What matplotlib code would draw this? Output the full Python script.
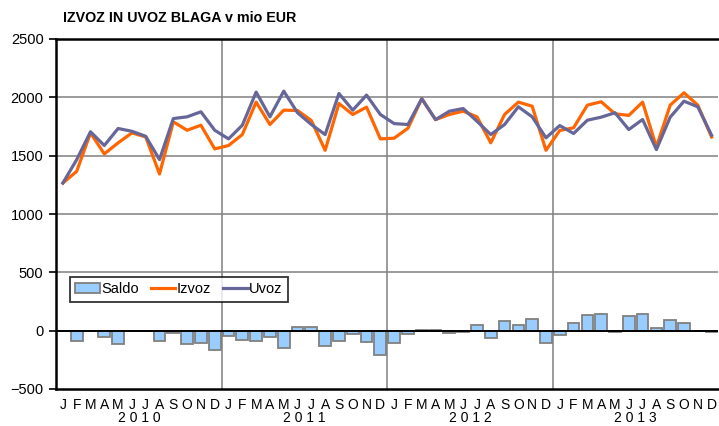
import matplotlib
matplotlib.use("Agg")
import matplotlib.pyplot as plt
import matplotlib.transforms as mtransforms
import numpy as np

plt.rcParams['font.family'] = ['Liberation Sans', 'DejaVu Sans']

title = "IZVOZ IN UVOZ BLAGA v mio EUR"
years = ["2010", "2011", "2012", "2013"]
month_labels = ["J", "F", "M", "A", "M", "J", "J", "A", "S", "O", "N", "D"]

izvoz = [1265, 1366, 1695, 1515, 1610, 1695, 1661, 1343, 1790, 1718, 1761, 1558,
         1587, 1681, 1959, 1767, 1890, 1887, 1801, 1546, 1947, 1853, 1916, 1644,
         1650, 1735, 1988, 1809, 1853, 1881, 1833, 1610, 1853, 1959, 1924, 1546,
         1716, 1739, 1933, 1962, 1859, 1845, 1959, 1575, 1933, 2039, 1933, 1660]
uvoz = [1266, 1466, 1705, 1587, 1733, 1709, 1666, 1466, 1818, 1833, 1876, 1718,
        1644, 1761, 2045, 1833, 2053, 1868, 1767, 1681, 2033, 1890, 2019, 1853,
        1775, 1767, 1988, 1809, 1881, 1904, 1795, 1681, 1767, 1919, 1833, 1653,
        1758, 1690, 1804, 1830, 1868, 1724, 1810, 1552, 1830, 1967, 1919, 1675]
saldo = [-5, -86, -5, -52, -115, -5, -3, -92, -20, -115, -103, -163,
         -45, -77, -86, -57, -149, 35, 30, -129, -86, -29, -95, -206,
         -109, -29, 2, 5, -23, -14, 52, -66, 86, 49, 100, -109,
         -37, 66, 135, 143, -14, 129, 143, 20, 95, 66, -5, -10]

W, H = 719, 426
fig = plt.figure(figsize=(W / 100, H / 100), dpi=100)
ax = fig.add_axes([56 / W, 1 - 389 / H, (718.5 - 56) / W, (389 - 39) / H])

n = len(izvoz)
x = np.arange(n) + 0.5

ax.set_xlim(0, n)
ax.set_ylim(-500, 2500)

# grid
for yv in [500, 1000, 1500, 2000]:
    ax.axhline(yv, color='#808080', lw=1.1, zorder=0)
for k in range(1, len(years)):
    ax.axvline(12 * k, color='#808080', lw=1.1, zorder=0)

bars = ax.bar(x, saldo, width=0.85, color='#99CCFF', edgecolor='#808080',
              linewidth=1.3, zorder=2, label='Saldo')
ax.axhline(0, color='black', lw=1.4, zorder=3)
l1, = ax.plot(x, izvoz, color='#FF6600', lw=2.3, zorder=4, label='Izvoz')
l2, = ax.plot(x, uvoz, color='#666699', lw=2.3, zorder=5, label='Uvoz')

ax.set_yticks([-500, 0, 500, 1000, 1500, 2000, 2500])
ax.tick_params(axis='y', direction='out', length=5, width=1.2, labelsize=10.5,
               pad=4, color='black')
ax.set_xticks([])

for s in ['left', 'bottom', 'top']:
    ax.spines[s].set_color('black')
    ax.spines[s].set_linewidth(1.8)
ax.spines['right'].set_visible(False)

# month & year labels
trans = mtransforms.blended_transform_factory(ax.transData, fig.transFigure)
for i in range(n):
    ax.text(x[i], 1 - 405 / H, month_labels[i % 12], transform=trans,
            ha='center', va='center', fontsize=10)
for k, yr in enumerate(years):
    ax.text(12 * k + 6, 1 - 418 / H, " ".join(yr), transform=trans,
            ha='center', va='center', fontsize=10)

fig.text(63 / W, 1 - 18 / H, title, fontsize=10.3, fontweight='bold',
         ha='left', va='center')

leg = ax.legend(handles=[bars, l1, l2], loc='lower left',
                bbox_to_anchor=(0.021, 0.25), ncol=3, frameon=True,
                fancybox=False, edgecolor='black', fontsize=10.5,
                handlelength=1.7, handletextpad=0.1, columnspacing=0.8,
                borderpad=0.35, borderaxespad=0)
leg.get_frame().set_linewidth(1.3)

fig.savefig("out.png", dpi=100)
